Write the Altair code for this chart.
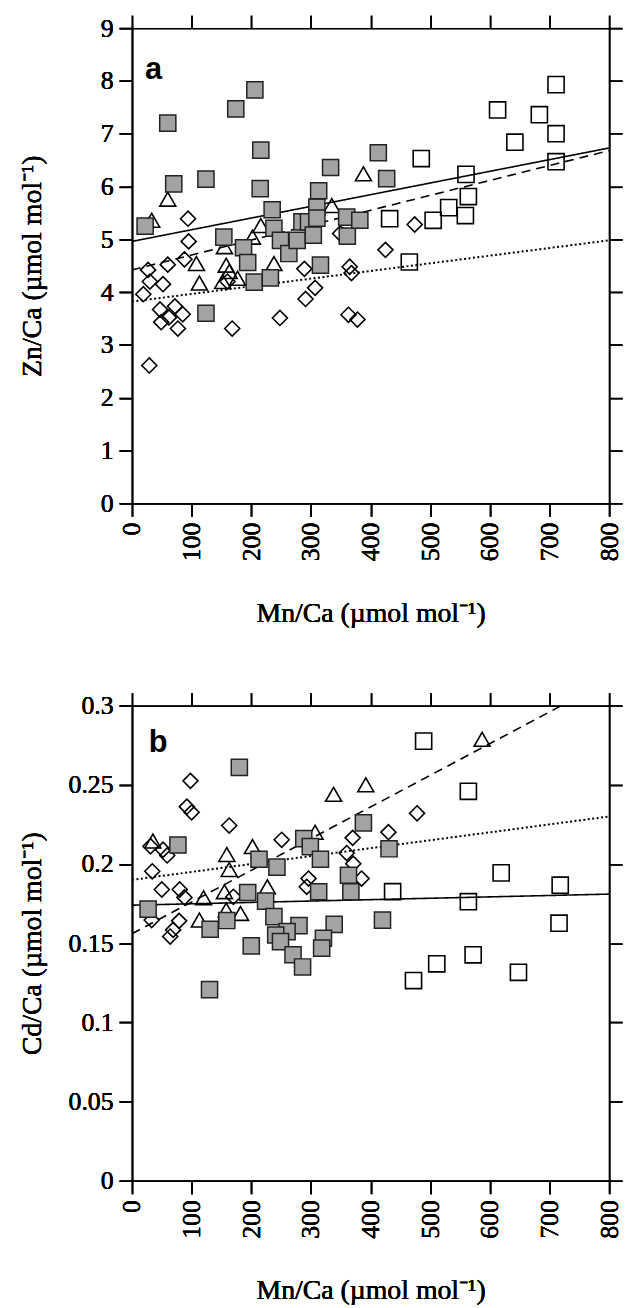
import altair as alt
import pandas as pd

# ---------------- Panel a : Zn/Ca vs Mn/Ca ----------------
a_fill_x = [22, 60, 70, 124, 124, 154, 174, 187, 194, 205, 206, 216, 215, 235, 238, 232,
            249, 263, 277, 285, 296, 304, 310, 313, 310, 316, 333, 360, 361, 382, 413, 427]
a_fill_y = [5.25, 7.2, 6.05, 6.14, 3.6, 5.04, 7.47, 4.84, 4.56, 4.19, 7.83, 6.69, 5.96, 5.56, 5.21, 4.27,
            4.98, 4.73, 4.98, 5.33, 5.33, 5.08, 5.61, 5.92, 5.40, 4.51, 6.36, 5.42, 5.06, 5.36, 6.64, 6.15]

a_open_x = [711, 613, 683, 711, 642, 711, 485, 560, 564, 531, 559, 505, 432, 465]
a_open_y = [7.93, 7.45, 7.36, 7.0, 6.84, 6.47, 6.53, 6.23, 5.81, 5.6, 5.45, 5.36, 5.39, 4.57]

a_tri_x = [60, 33, 108, 113, 216, 202, 155, 158, 163, 177, 152, 238, 335, 388]
a_tri_y = [5.76, 5.36, 4.54, 4.17, 5.26, 5.04, 4.86, 4.51, 4.39, 4.26, 4.2, 4.54, 5.64, 6.24]

a_dia_x = [94, 95, 88, 60, 27, 30, 52, 19, 47, 72, 85, 49, 62, 77, 160, 168, 248, 289,
           291, 307, 365, 368, 363, 378, 425, 474, 349, 29]
a_dia_y = [5.39, 4.96, 4.62, 4.52, 4.42, 4.2, 4.15, 3.96, 3.67, 3.73, 3.58, 3.43, 3.52, 3.31, 4.2, 3.31, 3.51, 4.44,
           3.87, 4.08, 4.48, 4.36, 3.57, 3.48, 4.8, 5.28, 5.11, 2.61]

# regression lines (end points): solid, dashed, dotted
a_line_x0 = [0, 0, 0]
a_line_y0 = [4.96, 4.42, 3.82]
a_line_x1 = [800, 800, 800]
a_line_y1 = [6.73, 6.68, 4.98]

# ---------------- Panel b : Cd/Ca vs Mn/Ca ----------------
b_fill_x = [180, 77, 27, 213, 243, 288, 299, 316, 388, 431, 194, 224, 159, 131, 238, 280, 260, 241,
            249, 200, 270, 286, 339, 321, 318, 313, 363, 367, 420, 130]
b_fill_y = [0.261, 0.212, 0.1715, 0.203, 0.198, 0.216, 0.211, 0.203, 0.226, 0.2096, 0.182, 0.1766, 0.1643,
            0.1588, 0.1668, 0.1611, 0.1573, 0.1552, 0.151, 0.1483, 0.1427, 0.135, 0.1619, 0.1531, 0.1469,
            0.1825, 0.1929, 0.1825, 0.1646, 0.1207]

b_open_x = [489, 564, 619, 718, 564, 716, 572, 511, 472, 648, 437]
b_open_y = [0.2776, 0.2459, 0.1944, 0.1866, 0.1762, 0.1626, 0.1427, 0.137, 0.1264, 0.1316, 0.1825]

b_tri_x = [35, 338, 392, 159, 163, 202, 307, 227, 120, 155, 113, 182, 158, 587]
b_tri_y = [0.2145, 0.244, 0.25, 0.206, 0.1965, 0.211, 0.22, 0.1856, 0.1787, 0.1825, 0.1646, 0.1688,
           0.171, 0.2787]

b_dia_x = [98, 92, 100, 163, 31, 52, 59, 34, 50, 80, 88, 79, 69, 64, 33, 170, 251, 296, 293, 370,
           360, 371, 385, 430, 478]
b_dia_y = [0.2525, 0.2362, 0.2326, 0.2243, 0.2112, 0.209, 0.2054, 0.1954, 0.1839, 0.1839, 0.1789,
           0.1641, 0.1584, 0.1542, 0.1646, 0.1793, 0.2153, 0.1908, 0.1856, 0.2165, 0.2069, 0.2002,
           0.1908, 0.2201, 0.232]

b_line_x0 = [0, 0, 0]
b_line_y0 = [0.174, 0.156, 0.190]
b_line_x1 = [800, 720, 800]
b_line_y1 = [0.181, 0.300, 0.230]

line_kinds = ["solid", "dashed", "dotted"]

x_ticks = [0, 100, 200, 300, 400, 500, 600, 700, 800]
a_y_ticks = [0, 1, 2, 3, 4, 5, 6, 7, 8, 9]
b_y_ticks = [0, 0.05, 0.1, 0.15, 0.2, 0.25, 0.3]

FONT = "Liberation Serif"
W, H = 481, 479


def lines_df(x0, y0, x1, y1):
    rows = []
    for k, a, b, c, d in zip(line_kinds, x0, y0, x1, y1):
        rows.append({"kind": k, "Mn": a, "val": b, "o": 0})
        rows.append({"kind": k, "Mn": c, "val": d, "o": 1})
    return pd.DataFrame(rows)


def panel(fx, fy, ox, oy, tx, ty, dx, dy, lx0, ly0, lx1, ly1, ymax, yticks, ytitle, letter, lx, ly):
    xs = alt.Scale(domain=[0, 800], nice=False, zero=False)
    ys = alt.Scale(domain=[0, ymax], nice=False, zero=False)
    common = dict(tickSize=13, tickWidth=1.5, tickColor="black", domainColor="black",
                  domainWidth=1.5, grid=False, labelFont=FONT, labelFontSize=26,
                  labelColor="black", titleFont=FONT, titleFontSize=28,
                  titleFontWeight="normal", titleColor="black", labelPadding=6)
    xaxis = alt.Axis(values=x_ticks, title="Mn/Ca (µmol mol⁻¹)", labelAngle=-90,
                     titleX=W / 2, titleY=111, titleBaseline="middle", orient="bottom", **common)
    yaxis = alt.Axis(values=yticks, title=ytitle, format="~g", orient="left",
                     titleX=-100, titleY=H / 2, titleBaseline="middle", **common)
    xtop = alt.Axis(values=x_ticks, labels=False, title=None, orient="top",
                    tickSize=13, tickWidth=1.5, tickColor="black", domainColor="black",
                    domainWidth=1.5, grid=False)
    yright = alt.Axis(values=yticks, labels=False, title=None, orient="right",
                      tickSize=13, tickWidth=1.5, tickColor="black", domainColor="black",
                      domainWidth=1.5, grid=False)

    ldf = lines_df(lx0, ly0, lx1, ly1)
    line_layers = []
    dashes = {"solid": [1, 0], "dashed": [9, 6], "dotted": [2, 2.5]}
    widths = {"solid": 1.6, "dashed": 1.6, "dotted": 2.0}
    for k in line_kinds:
        line_layers.append(
            alt.Chart(ldf[ldf.kind == k]).mark_line(
                color="black", strokeDash=dashes[k], strokeWidth=widths[k], clip=True
            ).encode(
                x=alt.X("Mn:Q", scale=xs, axis=xtop),
                y=alt.Y("val:Q", scale=ys, axis=yright),
                order="o:O",
            )
        )

    def pts(xv, yv, shape, size, filled, fill):
        df = pd.DataFrame({"Mn": xv, "val": yv})
        if filled:
            m = alt.Chart(df).mark_point(shape=shape, size=size, filled=True, fill=fill,
                                         stroke="#222222", strokeWidth=1.5, opacity=1)
        else:
            m = alt.Chart(df).mark_point(shape=shape, size=size, filled=False,
                                         stroke="black", strokeWidth=1.6, opacity=1)
        return m.encode(x=alt.X("Mn:Q", scale=xs, axis=xaxis),
                        y=alt.Y("val:Q", scale=ys, axis=yaxis))

    dia = pts(dx, dy, "diamond", 230, False, None)
    tri = pts(tx, ty, "triangle-up", 260, False, None)
    opn = pts(ox, oy, "square", 265, False, None)
    fil = pts(fx, fy, "square", 265, True, "#a3a3a3")

    lab = alt.Chart(pd.DataFrame({"t": [letter]})).mark_text(
        font="Liberation Sans", fontWeight="bold", fontSize=31, align="left",
        baseline="alphabetic", color="black"
    ).encode(x=alt.value(lx), y=alt.value(ly), text="t:N")

    return alt.layer(*line_layers, dia, tri, opn, fil, lab).properties(width=W, height=H)


pa = panel(a_fill_x, a_fill_y, a_open_x, a_open_y, a_tri_x, a_tri_y, a_dia_x, a_dia_y,
           a_line_x0, a_line_y0, a_line_x1, a_line_y1, 9, a_y_ticks,
           "Zn/Ca (µmol mol⁻¹)", "a", 13, 51)
pb = panel(b_fill_x, b_fill_y, b_open_x, b_open_y, b_tri_x, b_tri_y, b_dia_x, b_dia_y,
           b_line_x0, b_line_y0, b_line_x1, b_line_y1, 0.3, b_y_ticks,
           "Cd/Ca (µmol mol⁻¹)", "b", 17, 47)

chart = alt.vconcat(pa, pb, spacing=63).properties(
    padding={"left": 10, "top": 0, "right": 0, "bottom": 0}
).configure_view(stroke="black", strokeWidth=1.5).configure(background="white")

chart.save("out.html", embed_options={"renderer": "svg", "actions": False})
